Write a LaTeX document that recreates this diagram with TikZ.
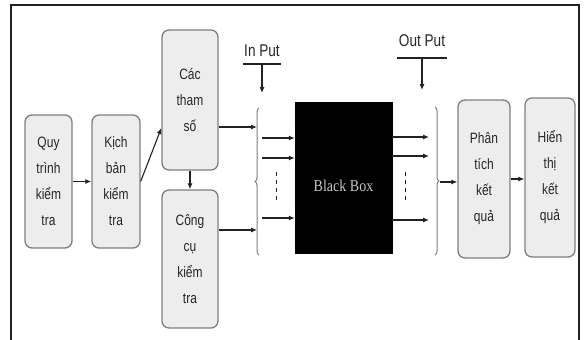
\documentclass[tikz,border=0pt]{standalone}
\usepackage{fontspec}
\setmainfont{Liberation Sans}[FakeStretch=0.8]
\newfontfamily\bbfont{Liberation Serif}[FakeStretch=0.85]
\usetikzlibrary{arrows.meta,calc,decorations.pathreplacing}
\definecolor{boxfill}{HTML}{EDEDED}
\definecolor{boxline}{HTML}{7F7F7F}
\definecolor{txt}{HTML}{262626}
\definecolor{ink}{HTML}{222222}
\tikzset{
  stepbox/.style={draw=boxline, line width=1.3pt, fill=boxfill, rounded corners=7pt,
    inner sep=0pt, align=center, text=txt,
    font=\fontsize{15}{26}\selectfont},
  arr/.style={draw=ink, line width=1.1pt, -{Latex[length=6pt,width=5pt]}},
  ln/.style={draw=ink, line width=1.1pt},
  brc/.style={draw=boxline, line width=1pt, decorate, decoration={brace, amplitude=4pt}},
  lbl/.style={text=txt, font=\fontsize{17}{20}\selectfont, inner sep=0pt}
}
\begin{document}
\begin{tikzpicture}[x=1pt, y=-1pt]
\useasboundingbox (0,0) rectangle (584,340);
% frame
\draw[ink, line width=1.5pt] (11,340) -- (11,5) -- (579,5) -- (579,340);

% boxes
\node[stepbox, minimum width=47pt, minimum height=133pt] (q) at (48.5,181.5) {Quy\\trình\\kiểm\\tra};
\node[stepbox, minimum width=48pt, minimum height=133pt] (k) at (116,181.5) {Kịch\\bản\\kiểm\\tra};
\node[stepbox, minimum width=56pt, minimum height=140pt] (c) at (190,100) {Các\\tham\\số};
\node[stepbox, minimum width=56pt, minimum height=138pt] (g) at (190,259) {Công\\cụ\\kiểm\\tra};
\node[stepbox, minimum width=52pt, minimum height=158pt] (p) at (484,179) {Phân\\tích\\kết\\quả};
\node[stepbox, minimum width=50pt, minimum height=159pt] (h) at (550,177.5) {Hiển\\thị\\kết\\quả};

% black box
\node[fill=black, draw=black, minimum width=97pt, minimum height=151pt, inner sep=0pt] (bb) at (343.5,177.5) {};
\node[text=black!22, font=\bbfont\fontsize{16.5}{18}\selectfont, inner sep=0pt] (bbt) at (343.5,186) {Black Box};

% labels
\node[lbl] (inl) at (262,51) {In Put};
\node[lbl] (outl) at (422,41) {Out Put};
\coordinate (inA) at (243,64);
\coordinate (inB) at (281,64);
\coordinate (inC) at (262,64);
\coordinate (inT) at (262,93);
\coordinate (outA) at (397,58);
\coordinate (outB) at (447,58);
\coordinate (outC) at (422,58);
\coordinate (outT) at (422,90);
\draw[ln] (inA) -- (inB);
\draw[arr] (inC) -- (inT);
\draw[ln] (outA) -- (outB);
\draw[arr] (outC) -- (outT);

% braces
\coordinate (lbTop) at (259,108);
\coordinate (lbBot) at (259,255);
\coordinate (rbTop) at (435,107);
\coordinate (rbBot) at (435,255);
\coordinate (rbTip) at (440,182);
\draw[brc] (lbBot) -- (lbTop);
\draw[brc] (rbTop) -- (rbBot);

% flow arrows
\draw[arr] (q.east) -- (k.west);
\draw[arr] (k.east) -- ($(c.west)+(0,28)$);
\draw[arr] (c.south) -- (g.north);
\coordinate (cin) at (257,127);
\coordinate (gin) at (257,230);
\draw[arr] ($(c.east)+(0,27)$) -- (cin);
\draw[arr] ($(g.east)+(0,-29)$) -- (gin);

% inputs to black box
\coordinate (i1) at (262,138);
\coordinate (i2) at (262,158);
\coordinate (i3) at (262,218);
\draw[arr] (i1) -- (i1 -| bb.west);
\draw[arr] (i2) -- (i2 -| bb.west);
\draw[arr] (i3) -- (i3 -| bb.west);
\coordinate (d1a) at (276,172);
\coordinate (d1b) at (276,203);
\draw[ln, line width=0.9pt, dash pattern=on 4pt off 4pt] (d1a) -- (d1b);

% outputs
\coordinate (o1) at (429,137);
\coordinate (o2) at (429,156);
\coordinate (o3) at (429,220);
\draw[arr] (o1 -| bb.east) -- (o1);
\draw[arr] (o2 -| bb.east) -- (o2);
\draw[arr] (o3 -| bb.east) -- (o3);
\coordinate (d2a) at (405,172);
\coordinate (d2b) at (405,203);
\draw[ln, line width=0.9pt, dash pattern=on 4pt off 4pt] (d2a) -- (d2b);

\draw[arr] (rbTip) -- (rbTip -| p.west);
\draw[arr] (p.east) -- (p.east -| h.west);
\end{tikzpicture}
\end{document}
